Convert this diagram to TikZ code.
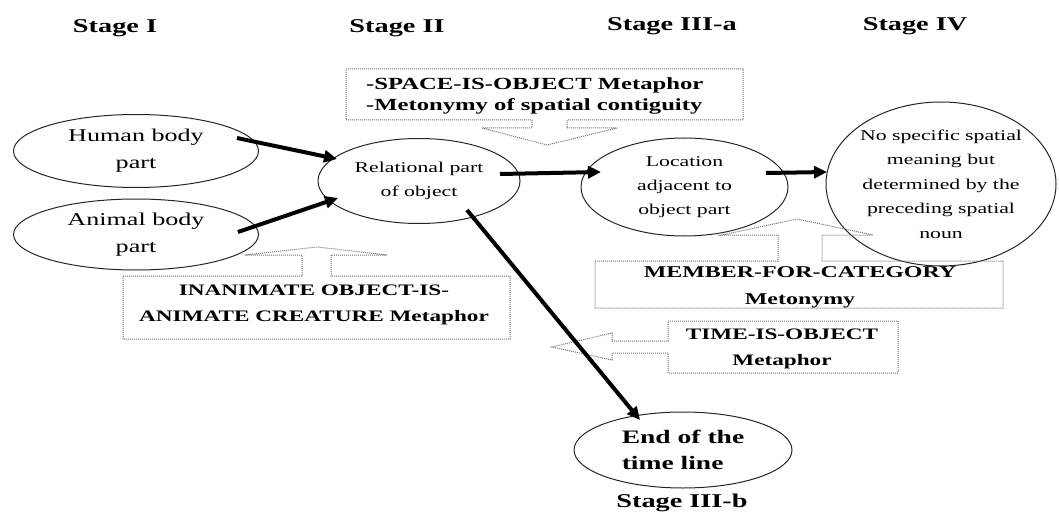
\documentclass[tikz,border=0pt]{standalone}
\usepackage{fontspec}
\setmainfont[FakeStretch=1.45]{Liberation Serif}
\usetikzlibrary{shapes.geometric,arrows.meta,calc}
\begin{document}
\begin{tikzpicture}[x=1pt,y=-1pt,
  ell/.style={draw=black!85,line width=1pt,ellipse,inner sep=0pt,align=center},
  arr/.style={line width=4pt,-{Triangle[length=13pt,width=12pt]}},
  callout/.style={draw=black!55,line width=1pt,densely dotted},
  boxtxt/.style={font=\bfseries\fontsize{16}{25.5}\selectfont,align=center,inner sep=0pt},
  stage/.style={font=\bfseries\fontsize{19.5}{22}\selectfont,inner sep=0pt,anchor=base}]
\useasboundingbox (0,0) rectangle (1059,513);

% stage headings
\node[stage] (s1) at (115,33) {Stage I};
\node[stage] (s2) at (397,33) {Stage II};
\node[stage] (s3a) at (672,31) {Stage III-a};
\node[stage] (s4) at (915,31) {Stage IV};
\node[stage] (s3b) at (682,507) {Stage III-b};

% ellipses
\node[ell,minimum width=245pt,minimum height=73pt,font=\fontsize{18}{27}\selectfont] (hum) at (136,151) {Human body\\part};
\node[ell,minimum width=245pt,minimum height=71pt,font=\fontsize{18}{27}\selectfont] (ani) at (136,234.5) {Animal body\\part};
\node[ell,minimum width=202pt,minimum height=85pt,font=\fontsize{15}{23.5}\selectfont] (rel) at (419,181) {Relational part\\of object};
\node[ell,minimum width=207pt,minimum height=98pt,font=\fontsize{15}{23.7}\selectfont] (loc) at (684.5,187) {Location\\adjacent to\\object part};
\node[ell,minimum width=230pt,minimum height=164pt,font=\fontsize{15}{24.5}\selectfont] (iv) at (941,184) {No specific spatial\\meaning but\\determined by the\\preceding spatial\\noun};
\node[ell,minimum width=218pt,minimum height=76pt,align=left,font=\bfseries\fontsize{19}{25.5}\selectfont] (end) at (683,450) {End of the\\time line};

% callout: SPACE-IS-OBJECT
\draw[callout] (346,69) -- (743,69) -- (743,120) -- (567,120) -- (567,128) -- (617,128)
  -- (547,145) -- (482,128) -- (532,128) -- (532,120) -- (346,120) -- cycle;
\node[boxtxt,anchor=west,align=left,font=\bfseries\fontsize{17}{21}\selectfont] (spc) at (366,95.5) {-SPACE-IS-OBJECT Metaphor\\-Metonymy of spatial contiguity};

% callout: INANIMATE OBJECT-IS-ANIMATE CREATURE
\draw[callout] (123,276) -- (302,276) -- (302,255) -- (245,255) -- (317,247) -- (387,255)
  -- (331,255) -- (331,276) -- (510,276) -- (510,339) -- (123,339) -- cycle;
\node[boxtxt] (ina) at (314,305) {INANIMATE OBJECT-IS-\\ANIMATE CREATURE Metaphor};

% callout: MEMBER-FOR-CATEGORY
\draw[callout] (595,261) -- (778,261) -- (778,235) -- (722,235) -- (797,219) -- (873,235)
  -- (822,235) -- (822,261) -- (1003,261) -- (1003,308) -- (595,308) -- cycle;
\node[boxtxt,font=\bfseries\fontsize{16.5}{27}\selectfont] (mem) at (800,287.5) {MEMBER-FOR-CATEGORY\\Metonymy};

% callout: TIME-IS-OBJECT
\draw[callout] (668,321) -- (898,321) -- (898,373) -- (668,373) -- (668,353) -- (612,353)
  -- (612,360) -- (552,347) -- (612,333) -- (612,341) -- (668,341) -- cycle;
\node[boxtxt] (tim) at (782,349) {TIME-IS-OBJECT\\Metaphor};

% thick arrows
\draw[arr] ($(hum.center)+(101,-13)$) -- ($(rel.center)+(-82,-22)$);
\draw[arr] ($(ani.center)+(102,-2.5)$) -- ($(rel.center)+(-81,17)$);
\draw[arr] ($(rel.center)+(81,-7)$) -- ($(loc.center)+(-83.5,-15)$);
\draw[arr] ($(loc.center)+(81.5,-14)$) -- ($(iv.center)+(-114,-12)$);
\draw[arr] ($(rel.center)+(48,29)$) -- ($(end.center)+(-43,-30)$);
\end{tikzpicture}
\end{document}
